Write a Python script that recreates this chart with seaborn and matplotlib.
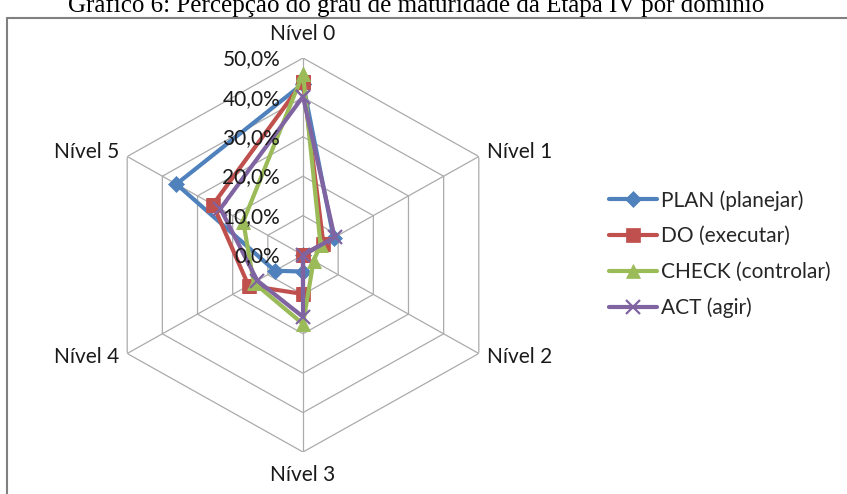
import numpy as np
import pandas as pd
import matplotlib
matplotlib.use("Agg")
import matplotlib.pyplot as plt
from matplotlib.lines import Line2D
import seaborn as sns

# ---- data -------------------------------------------------------------
niveis = ["Nível 0", "Nível 1", "Nível 2", "Nível 3", "Nível 4", "Nível 5"]
dominios = ["PLAN (planejar)", "DO (executar)", "CHECK (controlar)", "ACT (agir)"]
plan = [43.5, 8.7, 0.0, 4.2, 8.0, 36.0]
do = [44.0, 5.8, 0.0, 9.9, 15.5, 25.6]
check = [46.0, 5.0, 3.0, 17.5, 14.0, 17.0]
act = [40.2, 9.0, 0.0, 15.7, 13.0, 23.5]
ticks = [0, 10, 20, 30, 40, 50]
tick_labels = ["0,0%", "10,0%", "20,0%", "30,0%", "40,0%", "50,0%"]
titulo = "Gráfico 6: Percepção do grau de maturidade da Etapa IV por domínio"

cores = ["#4F81BD", "#C0504D", "#9BBB59", "#8064A2"]
marcadores = ["D", "s", "^", "x"]
tam_marc = [8.5, 9.5, 10.5, 10]

sns.set_style("white")
plt.rcParams["font.family"] = ["Lato", "DejaVu Sans"]

W, H = 847, 494
fig = plt.figure(figsize=(W / 100, H / 100), dpi=100)

# radar area: centre (303, 255) px, vertical radius 197 px
cx, cy, rx, ry = 303, 255, 203, 197
ax = fig.add_axes([(cx - rx) / W, 1 - (cy + ry) / H, 2 * rx / W, 2 * ry / H],
                  projection="polar")
ax.set_aspect("auto")
ax.set_theta_offset(np.pi / 2)
ax.set_theta_direction(-1)
ax.set_ylim(0, 50)
ax.grid(False)
ax.set_xticks([])
ax.set_yticks([])
ax.spines["polar"].set_visible(False)
ax.patch.set_alpha(0)

n = len(niveis)
ang = np.arange(n) * 2 * np.pi / n
ang_f = np.append(ang, 2 * np.pi)

# hexagonal grid and spokes
grid_kw = dict(color="#ABABAB", lw=0.9, zorder=1)
for r in ticks[1:]:
    ax.plot(ang_f, [r] * (n + 1), **grid_kw)
for a in ang:
    ax.plot([a, a], [0, 50], **grid_kw)

# long-form table, loop closed by repeating Nível 0
series = [plan, do, check, act]
rows = []
for nome, vals in zip(dominios, series):
    for a, v in zip(ang_f, list(vals) + [vals[0]]):
        rows.append({"dominio": nome, "theta": a, "valor": v})
df = pd.DataFrame(rows)

for nome, c, m, s in zip(dominios, cores, marcadores, tam_marc):
    sub = df[df["dominio"] == nome]
    sns.lineplot(data=sub, x="theta", y="valor", color=c, marker=m,
                 markersize=s, markeredgecolor=c, markerfacecolor=c,
                 markeredgewidth=1.6 if m == "x" else 0.5,
                 sort=False, estimator=None, lw=3, ax=ax, zorder=3)
ax.set_xlabel("")
ax.set_ylabel("")
ax.set_ylim(0, 50)
ax.set_xticks([])
ax.set_yticks([])

# radial tick labels next to the Nível 0 spoke
for t, lab in zip(ticks, tick_labels):
    ax.annotate(lab, xy=(0, t), xytext=(-16.5, -1), textcoords="offset points",
                ha="right", va="center", fontsize=15, color="#1A1A1A",
                annotation_clip=False)

# category labels
offs = [(0, 17, "center"), (6, 3, "left"), (6, -2.5, "left"),
        (0, -16.5, "center"), (-6, -2.5, "right"), (-6, 3, "right")]
for a, lab, (dx, dy, ha) in zip(ang, niveis, offs):
    ax.annotate(lab, xy=(a, 50), xytext=(dx, dy), textcoords="offset points",
                ha=ha, va="center", fontsize=15, color="#1A1A1A",
                annotation_clip=False)

# legend
handles = [Line2D([], [], color=c, lw=3, marker=m, markersize=s,
                  markeredgecolor=c, markerfacecolor=c,
                  markeredgewidth=1.6 if m == "x" else 0.5)
           for c, m, s in zip(cores, marcadores, tam_marc)]
fig.legend(handles, dominios, loc="center left",
           bbox_to_anchor=(609 / W, 1 - 254 / H), frameon=False,
           fontsize=15, handlelength=2.3, handletextpad=0.2,
           labelspacing=0.75, borderpad=0, borderaxespad=0)

# outer frame (left and top edges visible)
fc = "#808080"
fig.add_artist(Line2D([7 / W, 7 / W], [0, 1 - 18 / H], color=fc, lw=1.5,
                      transform=fig.transFigure))
fig.add_artist(Line2D([7 / W, 1], [1 - 18 / H, 1 - 18 / H], color=fc, lw=1.5,
                      transform=fig.transFigure))

fig.text(416 / W, 1 - 12 / H, titulo, ha="center", va="baseline",
         family="Liberation Serif", fontsize=18, color="#000000")

fig.savefig("out.png", dpi=100)
